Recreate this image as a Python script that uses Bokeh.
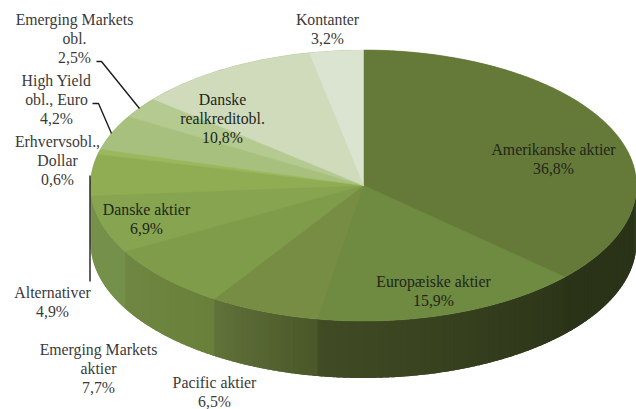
import math
from bokeh.plotting import figure
from bokeh.models import Range1d
from bokeh.core.properties import value
from bokeh.embed import file_html
from bokeh.resources import INLINE

categories = ["Amerikanske aktier", "Europæiske aktier", "Pacific aktier", "Emerging Markets\naktier",
              "Danske aktier", "Alternativer", "Erhvervsobl.,\nDollar", "High Yield\nobl., Euro",
              "Emerging Markets\nobl.", "Danske\nrealkreditobl.", "Kontanter"]
shares = [36.8, 15.9, 6.5, 7.7, 6.9, 4.9, 0.6, 4.2, 2.5, 10.8, 3.2]
value_labels = ["36,8%", "15,9%", "6,5%", "7,7%", "6,9%", "4,9%", "0,6%", "4,2%", "2,5%", "10,8%", "3,2%"]

top_colors = ["#657a38", "#6f8a41", "#778d43", "#7f9c4b", "#87a550", "#90ad54",
              "#9ab85c", "#a8c07d", "#b4ca90", "#d0dbbb", "#dbe4d0"]
side_colors = [("#2a3318", "#2a3318"), ("#2c3518", "#414c25"), ("#4a5729", "#61723a"),
               ("#68803a", "#708743"), ("#74904a", "#76904a"), ("#76904a", "#76904a"),
               ("#76904a", "#76904a"), ("#76904a", "#76904a"), ("#76904a", "#76904a"),
               ("#76904a", "#76904a"), ("#76904a", "#76904a")]

# label anchors: centre x, first-line y, in page pixels
label_pos = [(553, 149), (433, 281), (214, 382), (98, 349), (146, 209), (52, 292),
             (57, 141), (56, 80), (74, 19), (222, 99), (327, 19)]
leaders = [([89.5, 89.5], [175, 281]),
           ([92, 98, 111], [103, 103, 133]),
           ([96, 101, 139], [61, 61, 108])]

CX, CY, RX, RY, DEPTH = 363, 185, 273, 135.5, 57
LINE_H = 18.8


def hex_rgb(h):
    return tuple(int(h[i:i + 2], 16) for i in (1, 3, 5))


def mix(a, b, t):
    ca, cb = hex_rgb(a), hex_rgb(b)
    return "#%02x%02x%02x" % tuple(round(x + (y - x) * t) for x, y in zip(ca, cb))


def pt(a, dy=0.0):
    return CX + RX * math.sin(a), CY - RY * math.cos(a) + dy


p = figure(width=636, height=409, x_range=Range1d(0, 636), y_range=Range1d(409, 0),
           output_backend="svg", toolbar_location=None, min_border=0,
           background_fill_color="white", border_fill_color="white", outline_line_color=None)
p.axis.visible = False
p.grid.visible = False

total = sum(shares)
edges = [0.0]
for s in shares:
    edges.append(edges[-1] + s / total * 2 * math.pi)

# side wall: overlapping bands, each running on under the next, on the lower half only
for i in range(len(shares)):
    a0, a1 = max(edges[i], math.pi / 2), min(edges[i + 1], 3 * math.pi / 2)
    if a1 <= a0:
        continue
    n = max(2, int((a1 - a0) / 0.022))
    for k in range(n):
        u0 = a0 + (a1 - a0) * k / n
        ue = min(3 * math.pi / 2, a0 + (a1 - a0) * (k + 1) / n + 0.02)
        m = 6
        us = [u0 + (ue - u0) * j / m for j in range(m + 1)]
        top = [pt(u) for u in us]
        xs = [q[0] for q in top] + [q[0] for q in reversed(top)]
        ys = [q[1] for q in top] + [q[1] + DEPTH for q in reversed(top)]
        c = mix(side_colors[i][0], side_colors[i][1], (k + 0.5) / n)
        p.patch(xs, ys, fill_color=c, line_color=None)

# top face: a solid base disc first so no white shows through the slice seams
base = [pt(2 * math.pi * k / 360) for k in range(360)]
p.patch([q[0] for q in base], [q[1] for q in base], fill_color=top_colors[3], line_color=None)

for i in range(len(shares)):
    n = max(4, int((edges[i + 1] - edges[i]) / 0.01))
    angs = [edges[i] + (edges[i + 1] - edges[i]) * k / n for k in range(n + 1)]
    xs = [CX] + [pt(a)[0] for a in angs]
    ys = [CY] + [pt(a)[1] for a in angs]
    p.patch(xs, ys, fill_color=top_colors[i], line_color=top_colors[i], line_width=0.5)

for lx, ly in leaders:
    p.line(lx, ly, line_color="#1c1c1c", line_width=1.4)

for i, cat in enumerate(categories):
    lines = cat.split("\n") + [value_labels[i]]
    x, y = label_pos[i]
    inside = i in (0, 1, 4, 9)
    p.text([x] * len(lines), [y + LINE_H * k for k in range(len(lines))], text=lines,
           text_font=value("Liberation Serif"), text_font_size="15.8px",
           text_align="center", text_baseline="middle",
           text_color="#20261a" if inside else "#3a3a3a")

open("out.html", "w").write(file_html(p, INLINE))
